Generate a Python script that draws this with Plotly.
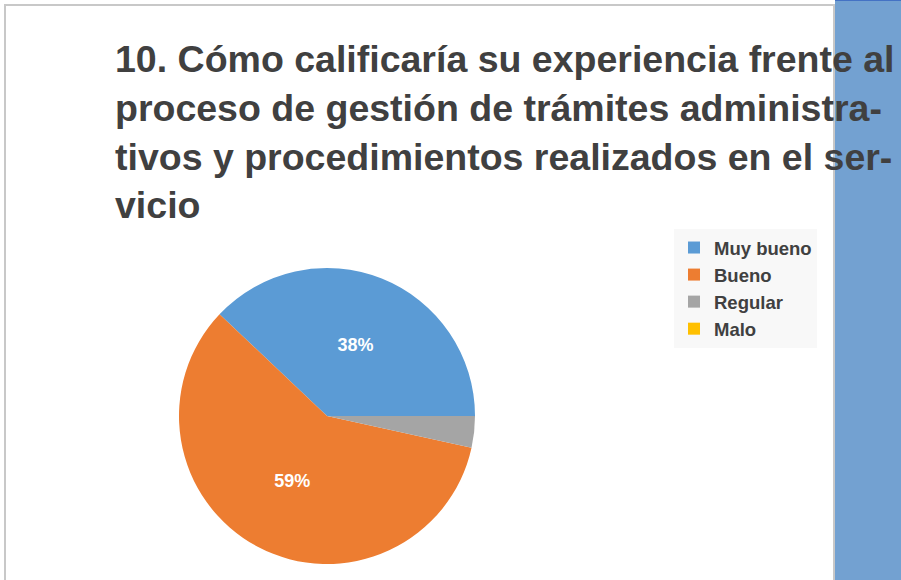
import plotly.graph_objects as go

# survey answers (counts)
categorias = ["Muy bueno", "Bueno", "Regular", "Malo"]
respuestas = [11, 17, 1, 0]
colores = ["#5b9bd5", "#ed7d31", "#a5a5a5", "#ffc000"]
etiquetas = ["%{percent:.0%}", "%{percent:.0%}", "", ""]

titulo = ("10. Cómo calificaría su experiencia frente al<br>"
          "proceso de gestión de trámites administra-<br>"
          "tivos y procedimientos realizados en el ser-<br>"
          "vicio")

W, H = 901, 580

# first slice should start at 3 o'clock and run counterclockwise
giro = 90 - 360 * respuestas[0] / sum(respuestas)

fig = go.Figure()
fig.add_trace(go.Pie(
    labels=categorias,
    values=respuestas,
    sort=False,
    direction="counterclockwise",
    rotation=giro,
    marker=dict(colors=colores, line=dict(width=0)),
    texttemplate=etiquetas,
    textposition="inside",
    insidetextfont=dict(color="white", size=18, family="Liberation Sans", weight="bold"),
    domain=dict(x=[179 / W, 475 / W], y=[1 - 564 / H, 1 - 268 / H]),
    hoverinfo="label+percent",
))

fig.update_layout(
    width=W, height=H,
    margin=dict(l=0, r=0, t=0, b=0),
    paper_bgcolor="white",
    showlegend=True,
    legend=dict(
        x=674 / W, y=1 - 229 / H, xanchor="left", yanchor="top",
        bgcolor="#f8f8f8",
        font=dict(family="Liberation Sans", size=18.5, color="#404040", weight="bold"),
    ),
    shapes=[
        # chart frame
        dict(type="rect", xref="paper", yref="paper",
             x0=5 / W, x1=834 / W, y0=-0.05, y1=1 - 5 / H,
             line=dict(color="#c8c8c8", width=2), fillcolor="rgba(0,0,0,0)"),
        # blue band on the right
        dict(type="rect", xref="paper", yref="paper",
             x0=835 / W, x1=1, y0=0, y1=1,
             line=dict(width=0), fillcolor="#73a1d1", layer="below"),
        dict(type="line", xref="paper", yref="paper",
             x0=835 / W, x1=1, y0=1, y1=1,
             line=dict(color="#4472c4", width=2)),
    ],
    annotations=[dict(
        text=titulo, xref="paper", yref="paper",
        x=113 / W, y=1 - 36 / H, xanchor="left", yanchor="top",
        align="left", showarrow=False,
        font=dict(family="Liberation Sans", size=37.5, color="#404040", weight="bold"),
    )],
)

fig.write_html("out.html", config={"displayModeBar": False},
               post_script="document.body.style.margin='0px';")
